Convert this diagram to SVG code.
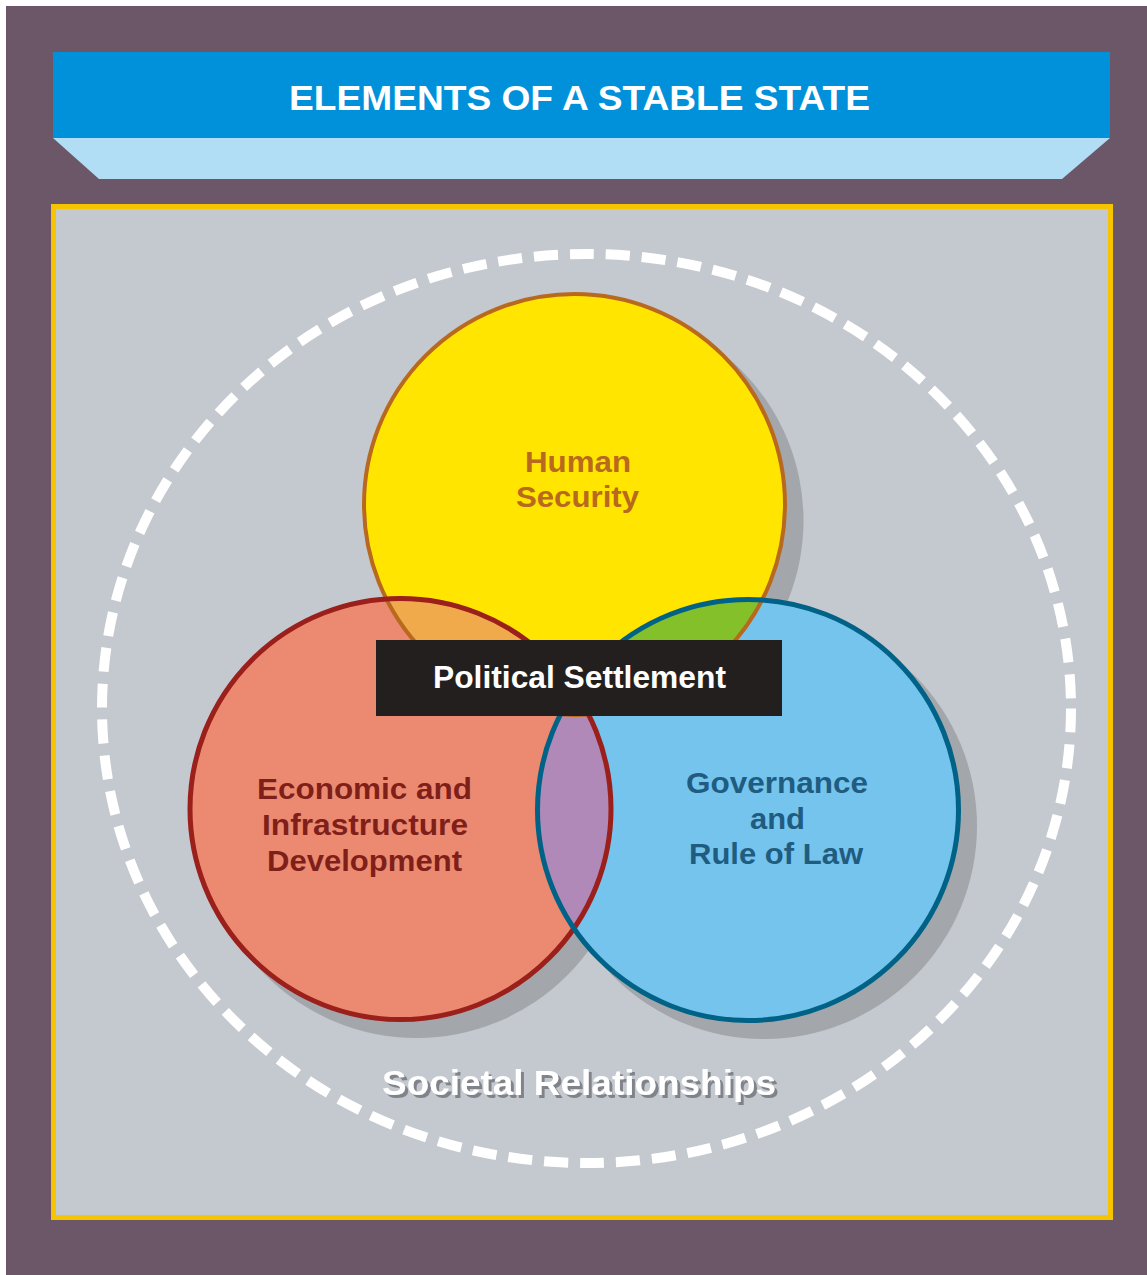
<svg xmlns="http://www.w3.org/2000/svg" width="1147" height="1275" viewBox="0 0 1147 1275">
<style>
  .t { font-family: "Liberation Sans", Arial, sans-serif; font-weight: bold; text-anchor: middle; }
  .shadow { fill: #A3A6AA; }
</style>
<defs>
  <clipPath id="clipY"><circle cx="574.5" cy="504.5" r="210.5"/></clipPath>
  <clipPath id="clipR"><circle cx="400.5" cy="809" r="210.5"/></clipPath>
  <clipPath id="clipB"><circle cx="748" cy="810" r="210.5"/></clipPath>
  <filter id="textShadow" x="-10%" y="-30%" width="120%" height="160%">
    <feDropShadow dx="3" dy="3" stdDeviation="0.6" flood-color="#80838A" flood-opacity="1"/>
  </filter>
</defs>
<rect x="0" y="0" width="1147" height="1275" fill="#FFFFFF"/>
<rect x="6" y="6" width="1141" height="1269" fill="#6C5769"/>

<g id="title">
  <polygon points="53,138 1110,138 1062,179 99,179" fill="#B2DEF5"/>
  <rect x="53" y="52" width="1057" height="86" fill="#0091DA"/>
  <text class="t" x="579.5" y="110" font-size="35" fill="#FFFFFF" textLength="581" lengthAdjust="spacingAndGlyphs">ELEMENTS OF A STABLE STATE</text>
</g>

<g id="frame">
  <rect x="53.5" y="206.5" width="1057" height="1011" fill="#C4C8CF" stroke="#F6C400" stroke-width="5"/>
</g>

<g id="societal-relationships">
  <ellipse cx="586.5" cy="708.5" rx="484.5" ry="454.5" fill="none" stroke="#FFFFFF" stroke-width="10" stroke-dasharray="24 12"/>
  <text class="t" x="579" y="1095" font-size="35" fill="#FFFFFF" filter="url(#textShadow)" textLength="394" lengthAdjust="spacingAndGlyphs">Societal Relationships</text>
</g>

<g id="shadows">
  <circle class="shadow" cx="590.5" cy="520.5" r="213"/>
  <circle class="shadow" cx="416.5" cy="825" r="213"/>
  <circle class="shadow" cx="764" cy="826" r="213"/>
</g>

<g id="human-security">
  <circle cx="574.5" cy="504.5" r="210.5" fill="#FFE500"/>
</g>
<g id="economic">
  <circle cx="400.5" cy="809" r="210.5" fill="#EC8A71"/>
</g>
<g id="governance">
  <circle cx="748" cy="810" r="210.5" fill="#74C4EE"/>
</g>

<g id="overlaps">
  <g clip-path="url(#clipY)">
    <circle cx="400.5" cy="809" r="210.5" fill="#F0A94B"/>
    <circle cx="748" cy="810" r="210.5" fill="#84C02A"/>
  </g>
  <g clip-path="url(#clipR)">
    <circle cx="748" cy="810" r="210.5" fill="#B089B8"/>
  </g>
</g>

<g id="outlines" fill="none">
  <circle cx="574.5" cy="504.5" r="210.5" stroke="#B8691E" stroke-width="4"/>
  <circle cx="400.5" cy="809" r="210.5" stroke="#9B1F1A" stroke-width="5"/>
  <circle cx="748" cy="810" r="210.5" stroke="#006286" stroke-width="5"/>
</g>

<g id="labels">
  <text class="t" x="578" y="472" font-size="30" fill="#B8691E" textLength="106" lengthAdjust="spacingAndGlyphs">Human</text>
  <text class="t" x="577.5" y="507" font-size="30" fill="#B8691E" textLength="123" lengthAdjust="spacingAndGlyphs">Security</text>
  <text class="t" x="364.5" y="799" font-size="30" fill="#7F1F1A" textLength="215" lengthAdjust="spacingAndGlyphs">Economic and</text>
  <text class="t" x="365" y="835" font-size="30" fill="#7F1F1A" textLength="206" lengthAdjust="spacingAndGlyphs">Infrastructure</text>
  <text class="t" x="364.5" y="871" font-size="30" fill="#7F1F1A" textLength="195" lengthAdjust="spacingAndGlyphs">Development</text>
  <text class="t" x="777" y="793" font-size="30" fill="#1F5C7F" textLength="182" lengthAdjust="spacingAndGlyphs">Governance</text>
  <text class="t" x="777.5" y="829" font-size="30" fill="#1F5C7F" textLength="55" lengthAdjust="spacingAndGlyphs">and</text>
  <text class="t" x="776" y="864" font-size="30" fill="#1F5C7F" textLength="174" lengthAdjust="spacingAndGlyphs">Rule of Law</text>
</g>

<g id="political-settlement">
  <rect x="376" y="640" width="406" height="76" fill="#231F1E"/>
  <text class="t" x="579.5" y="688" font-size="31" fill="#FFFFFF" textLength="293" lengthAdjust="spacingAndGlyphs">Political Settlement</text>
</g>
</svg>
